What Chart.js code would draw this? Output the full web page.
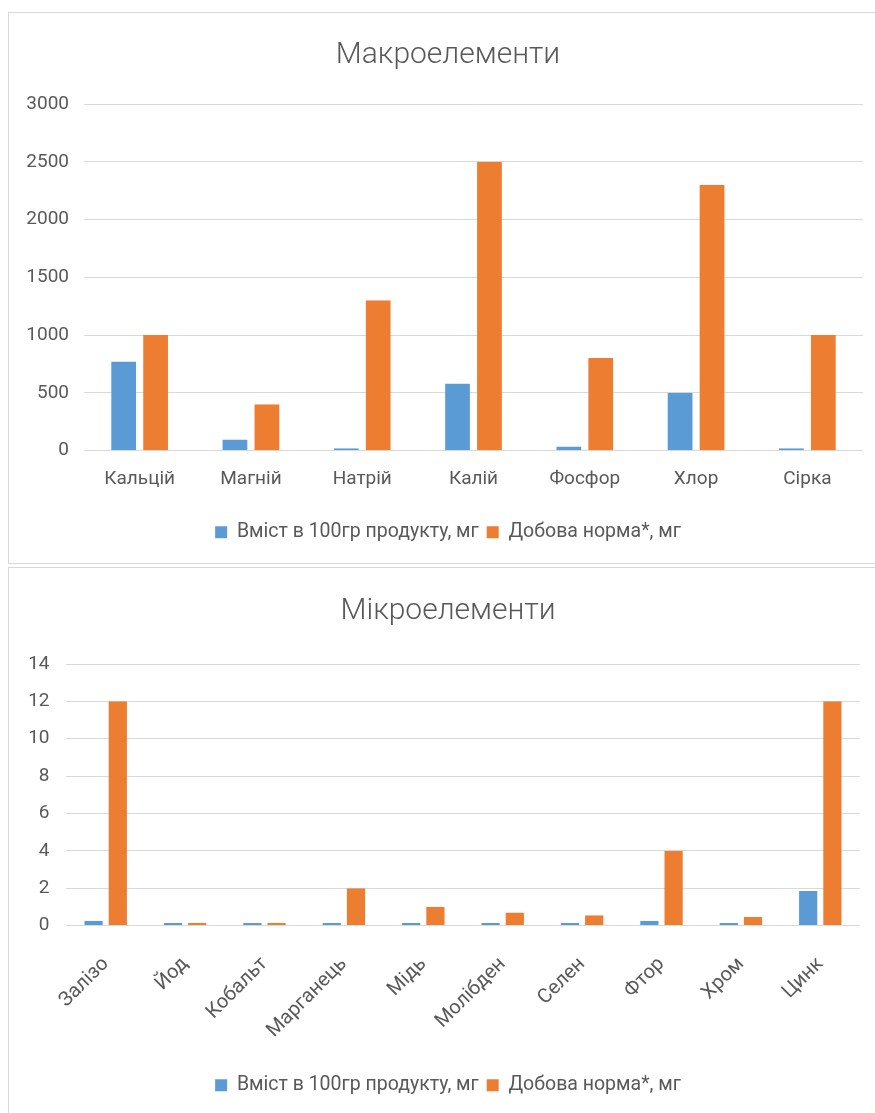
<!DOCTYPE html>
<html><head><meta charset="utf-8">
<script src="https://cdn.jsdelivr.net/npm/chart.js@4.4.1/dist/chart.umd.min.js"></script>
<style>
html,body{margin:0;padding:0;background:#fff;overflow:hidden;width:875px;height:1113px;}
.box{position:absolute;left:8px;width:900px;border:1px solid #d9d9d9;box-sizing:border-box;}
#b1{top:12px;height:552px}
#b2{top:567px;height:600px}
canvas{position:absolute;}
#c1{left:8px;top:12px}
#c2{left:8px;top:567px}
</style></head><body>
<div class="box" id="b1"></div>
<div class="box" id="b2"></div>
<canvas id="c1" width="880" height="551"></canvas>
<canvas id="c2" width="880" height="546"></canvas>
<script>
// ---- data ----
const macroTitle = 'Макроелементи';
const macroCategories = ['Кальцій','Магній','Натрій','Калій','Фосфор','Хлор','Сірка'];
const macroContent = [770, 95, 20, 580, 35, 500, 20];
const macroDaily = [1000, 400, 1300, 2500, 800, 2300, 1000];

const microTitle = 'Мікроелементи';
const microCategories = ['Залізо','Йод','Кобальт','Марганець','Мідь','Молібден','Селен','Фтор','Хром','Цинк'];
const microContent = [0.25, 0.14, 0.14, 0.14, 0.14, 0.14, 0.14, 0.25, 0.14, 1.85];
const microDaily = [12, 0.15, 0.15, 2, 1, 0.7, 0.55, 4, 0.45, 12];

const seriesLabels = ['Вміст в 100гр продукту, мг', 'Добова норма*, мг'];
const seriesColors = ['#5B9BD5', '#ED7D31'];

const FONT = 'Roboto, "Liberation Sans", sans-serif';
const TXT = '#595959';
const GRID = '#D9D9D9';

function makeChart(id, cfg) {
  const ds = [cfg.a, cfg.b].map((vals, i) => ({
    label: seriesLabels[i],
    data: vals,
    backgroundColor: seriesColors[i],
    borderColor: 'rgba(255,255,255,0)',
    borderWidth: {left: cfg.bw, right: cfg.bw, top: 0, bottom: 0},
    borderSkipped: false,
    categoryPercentage: cfg.catPct,
    barPercentage: 1
  }));
  return new Chart(document.getElementById(id), {
    type: 'bar',
    data: {labels: cfg.labels, datasets: ds},
    options: {
      responsive: false,
      animation: false,
      devicePixelRatio: 1,
      layout: {padding: {left: 0, right: 0, top: 0, bottom: cfg.padB}},
      plugins: {
        title: {display: true, text: cfg.title, color: TXT,
          font: {family: FONT, size: 30, weight: '300'},
          padding: {top: cfg.tTop, bottom: cfg.tBot}},
        legend: {position: 'bottom',
          labels: {color: TXT, font: {family: FONT, size: 19.5}, boxWidth: 12, boxHeight: 12, padding: 8}},
        tooltip: {enabled: false}
      },
      scales: {
        x: {
          grid: {display: false, drawTicks: false},
          border: {display: false},
          ticks: {color: TXT, font: {family: FONT, size: cfg.xFont}, padding: cfg.xPad,
            autoSkip: false, minRotation: cfg.rot, maxRotation: cfg.rot},
          afterFit: s => { s.height = cfg.xH; }
        },
        y: {
          min: 0, max: cfg.max,
          grid: {color: GRID, lineWidth: 1, drawTicks: false},
          border: {display: false},
          ticks: {stepSize: cfg.step, color: TXT, font: {family: FONT, size: 19}, padding: cfg.yPad,
            callback: v => String(v)},
          afterFit: s => { s.width = cfg.yW; }
        },
        yr: {
          position: 'right',
          grid: {display: false, drawTicks: false},
          border: {display: false},
          ticks: {display: false},
          afterFit: s => { s.width = cfg.rW; }
        }
      }
    }
  });
}

makeChart('c1', {
  labels: macroCategories, a: macroContent, b: macroDaily, title: macroTitle,
  bw: 3.6, catPct: 0.574, padB: 11, rW: 25,
  tTop: 25.5, tBot: 30.5, xPad: 17, xH: 64, xFont: 19, rot: 0,
  max: 3000, step: 500, yPad: 15, yW: 76
});

makeChart('c2', {
  labels: microCategories, a: microContent, b: microDaily, title: microTitle,
  bw: 3, catPct: 0.61, padB: 8, rW: 28,
  tTop: 26, tBot: 35, xPad: 27, xH: 142, xFont: 20, rot: 45,
  max: 14, step: 2, yPad: 16.5, yW: 58
});
</script>
</body></html>
